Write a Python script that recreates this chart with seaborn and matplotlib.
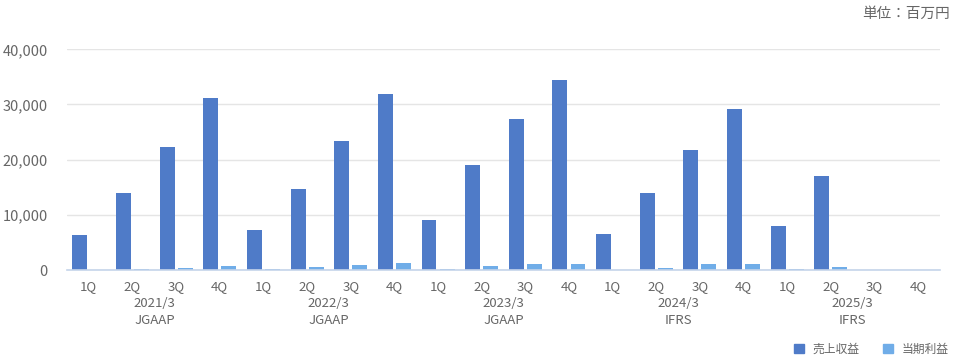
import numpy as np
import pandas as pd
import matplotlib
matplotlib.use("Agg")
import matplotlib.pyplot as plt
import matplotlib.patches as mpatches
import matplotlib.transforms as mtransforms
from matplotlib.ticker import FuncFormatter
import seaborn as sns

# ---- data ----
fiscal_years = ["2021/3", "2022/3", "2023/3", "2024/3", "2025/3"]
standards = ["JGAAP", "JGAAP", "JGAAP", "IFRS", "IFRS"]
quarters = ["1Q", "2Q", "3Q", "4Q"]
revenue = [6400, 14000, 22300, 31200,
           7300, 14700, 23400, 31900,
           9100, 19000, 27400, 34400,
           6500, 14000, 21800, 29200,
           8000, 17000, np.nan, np.nan]
profit = [30, 200, 400, 750,
          200, 550, 900, 1250,
          150, 700, 1100, 1100,
          20, 350, 1050, 1050,
          150, 500, np.nan, np.nan]
series_names = ["売上収益", "当期利益"]
unit_label = "単位：百万円"

# ---- style ----
sns.set_theme(style="white")
plt.rcParams["font.family"] = ["Noto Sans CJK JP", "DejaVu Sans"]
DARK = "#4f7bc8"
LIGHT = "#70ade8"
TXT = "#666666"

keys = [f"{fy} {q}" for fy in fiscal_years for q in quarters]
df = pd.DataFrame({
    "period": keys * 2,
    "series": [series_names[0]] * len(keys) + [series_names[1]] * len(keys),
    "value": list(revenue) + list(profit),
})

fig = plt.figure(figsize=(9.6, 3.6), dpi=100)
ax = fig.add_axes([67 / 960, 1 - 270 / 360, (940 - 67) / 960, (270 - 49.3) / 360])

sns.barplot(data=df, x="period", y="value", hue="series", order=keys,
            hue_order=series_names, palette=[DARK, LIGHT],
            width=0.825, gap=0.17, errorbar=None, legend=False, ax=ax,
            saturation=1, linewidth=0)

ax.set_ylim(0, 40000)
ax.set_xlim(-0.5, len(keys) - 0.5)
ax.set_yticks([0, 10000, 20000, 30000, 40000])
ax.yaxis.set_major_formatter(FuncFormatter(lambda v, p: f"{int(v):,}"))
ax.grid(axis="y", color="#e5e5e5", linewidth=1)
ax.set_axisbelow(True)
for s in ["top", "right", "left"]:
    ax.spines[s].set_visible(False)
ax.spines["bottom"].set_color("#c5d4ea")
ax.spines["bottom"].set_linewidth(1.2)
ax.set_xlabel("")
ax.set_ylabel("")
ax.set_xticks(range(len(keys)))
ax.set_xticklabels(quarters * len(fiscal_years))
ax.tick_params(axis="x", length=0, pad=7.5, labelsize=9.5, labelcolor=TXT)
ax.tick_params(axis="y", length=0, pad=14, labelsize=10.5, labelcolor=TXT)

trans = mtransforms.blended_transform_factory(ax.transData, fig.transFigure)
for i, (fy, st) in enumerate(zip(fiscal_years, standards)):
    xc = i * 4 + 1.5
    ax.text(xc, 1 - 303.5 / 360, fy, transform=trans, ha="center", va="center",
            fontsize=9.5, color=TXT)
    ax.text(xc, 1 - 320.5 / 360, st, transform=trans, ha="center", va="center",
            fontsize=9.5, color=TXT)

fig.text(950 / 960, 1 - 14 / 360, unit_label, ha="right", va="center",
         fontsize=10.5, color=TXT)

handles = [mpatches.Patch(color=DARK, label=series_names[0]),
           mpatches.Patch(color=LIGHT, label=series_names[1])]
fig.legend(handles=handles, loc="center right", bbox_to_anchor=(949 / 960, 1 - 349 / 360),
           ncol=2, frameon=False, fontsize=8.5, labelcolor=TXT,
           handlelength=0.85, handleheight=0.85, handletextpad=0.75,
           columnspacing=2.0, borderaxespad=0, borderpad=0)

fig.savefig("out.png", dpi=100)
